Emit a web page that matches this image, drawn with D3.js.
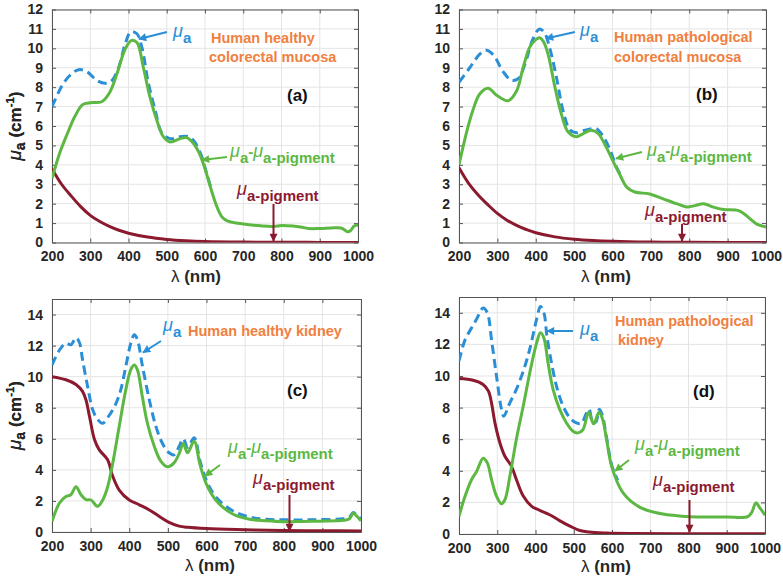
<!DOCTYPE html>
<html><head><meta charset="utf-8">
<script src="https://cdn.jsdelivr.net/npm/d3@7"></script>
<style>
body{margin:0;background:#fff}
svg{display:block}
text{font-family:"Liberation Sans",Arial,sans-serif}
</style>
</head><body>
<svg id="chart" width="783" height="578"></svg>
<script>
// ---------- tick labels ----------
const xTicks = [200,300,400,500,600,700,800,900,1000];
const yTicksColon = [0,1,2,3,4,5,6,7,8,9,10,11,12];
const yTicksKidney = [0,2,4,6,8,10,12,14];

// ---------- (a) healthy colorectal mucosa ----------
const aMuA = [[200,7.0],[230,8.2],[252,8.7],[270,8.9],[291,8.8],[317,8.35],[339,8.2],[357,8.35],[374,9.0],[391,10.2],[406,10.85],[422,10.75],[435,10.05],[452,8.2],[470,6.8],[487,5.65],[509,5.35],[535,5.45],[557,5.45],[572,5.2],[590,4.5],[600,3.85],[615,2.85]];
const aDiff = [[200,3.3],[220,4.6],[240,5.6],[260,6.5],[280,7.1],[300,7.2],[330,7.25],[350,7.7],[370,8.7],[390,9.9],[407,10.4],[422,10.3],[439,9.0],[456,7.5],[474,6.3],[491,5.45],[509,5.18],[535,5.35],[552,5.4],[570,5.1],[585,4.6],[600,3.8],[615,2.8],[630,1.9],[645,1.3],[660,1.1],[700,0.95],[750,0.85],[780,0.83],[800,0.88],[830,0.85],[850,0.8],[870,0.72],[900,0.72],[930,0.75],[955,0.75],[965,0.65],[972,0.55],[980,0.6],[990,0.85],[1000,0.9]];
const aPig = [[200,3.8],[225,3.0],[250,2.4],[275,1.85],[300,1.4],[325,1.08],[350,0.83],[375,0.63],[400,0.48],[450,0.28],[500,0.16],[550,0.09],[600,0.05],[700,0.02],[800,0.01],[900,0.005],[1000,0]];

// ---------- (b) pathological colorectal mucosa ----------
const bMuA = [[200,8.25],[228,9.0],[254,9.7],[271,9.9],[290,9.65],[315,8.8],[337,8.35],[355,8.45],[372,9.2],[393,10.5],[410,11.0],[423,10.8],[436,10.05],[454,8.5],[471,6.8],[489,5.8],[506,5.65],[528,5.78],[545,5.86],[558,5.86],[576,5.45],[593,4.8],[610,3.9],[625,3.33]];
const bDiff = [[200,4.0],[220,5.7],[236,6.8],[254,7.65],[276,7.95],[297,7.6],[328,7.3],[350,7.8],[367,9.0],[384,10.05],[400,10.45],[410,10.55],[420,10.35],[432,9.7],[450,8.0],[467,6.6],[484,5.7],[506,5.45],[523,5.6],[545,5.78],[563,5.6],[584,4.9],[601,4.2],[619,3.5],[637,2.85],[658,2.6],[697,2.5],[732,2.25],[767,2.0],[793,1.83],[815,1.9],[837,2.0],[863,1.82],[889,1.7],[930,1.63],[958,1.23],[976,0.95],[1000,0.8]];
const bPig = [[200,3.85],[225,3.05],[250,2.45],[275,1.95],[300,1.5],[325,1.15],[350,0.88],[375,0.67],[400,0.5],[450,0.29],[500,0.17],[550,0.1],[600,0.06],[700,0.02],[800,0.01],[1000,0]];

// ---------- (c) healthy kidney ----------
const cMuA = [[200,10.75],[219,11.7],[236,12.15],[249,12.05],[262,12.5],[271,12.2],[279,11.1],[292,9.4],[305,7.9],[318,7.25],[331,7.0],[348,7.5],[366,8.3],[378,9.15],[391,10.65],[404,12.15],[413,12.7],[421,12.4],[434,10.7],[452,8.5],[469,6.8],[486,5.7],[503,5.1],[516,4.97],[529,5.5],[540,6.0],[551,5.45],[568,6.07],[583,4.6],[600,3.3],[626,2.2],[669,1.35],[712,0.96],[755,0.82],[841,0.78],[893,0.8],[955,0.85],[970,0.95],[980,1.25],[990,1.05],[1000,0.82]];
const cDiff = [[200,0.67],[219,1.85],[236,2.28],[249,2.4],[262,2.92],[275,2.4],[288,2.08],[301,2.06],[318,1.65],[331,2.05],[344,2.9],[357,4.4],[374,6.8],[391,9.15],[404,10.45],[413,10.75],[421,10.45],[434,8.7],[447,7.0],[465,5.5],[482,4.55],[499,4.2],[516,4.45],[530,5.1],[540,5.7],[551,5.1],[568,5.85],[583,4.35],[600,3.07],[626,2.0],[669,1.14],[712,0.82],[755,0.72],[798,0.66],[850,0.68],[893,0.7],[955,0.75],[970,0.85],[980,1.2],[990,1.0],[1000,0.72]];
const cPig = [[200,10.0],[236,9.8],[262,9.5],[279,9.05],[288,8.5],[297,7.45],[310,5.95],[322,5.3],[344,4.65],[357,3.6],[374,2.7],[400,2.06],[426,1.75],[452,1.42],[478,1.0],[503,0.62],[529,0.38],[551,0.3],[600,0.22],[700,0.15],[800,0.1],[900,0.08],[1000,0.07]];

// ---------- (d) pathological kidney ----------
const dMuA = [[200,10.95],[216,12.3],[233,13.05],[246,13.6],[263,14.3],[274,14.0],[285,12.3],[298,10.0],[311,7.9],[317,7.45],[333,8.3],[350,9.15],[368,10.3],[385,11.7],[403,13.6],[413,14.4],[422,14.0],[430,12.5],[442,10.8],[455,9.35],[472,8.1],[490,7.35],[507,7.03],[520,7.0],[533,7.65],[540,7.9],[550,7.05],[558,7.1],[567,7.9],[575,7.5],[585,6.2],[600,4.3],[615,3.4]];
const dDiff = [[200,1.12],[216,2.4],[233,3.45],[246,3.95],[263,4.8],[274,4.5],[285,3.45],[298,2.4],[311,1.92],[320,2.17],[333,3.65],[350,6.0],[368,8.1],[385,10.2],[403,12.1],[413,12.73],[422,12.4],[433,10.8],[446,9.15],[463,7.9],[481,7.03],[498,6.5],[511,6.4],[524,6.6],[539,7.7],[552,6.97],[566,7.7],[575,7.3],[585,6.1],[600,4.2],[629,2.6],[672,1.7],[716,1.35],[760,1.18],[803,1.09],[900,1.08],[955,1.1],[966,1.4],[976,1.97],[988,1.6],[1000,1.2]];
const dPig = [[200,9.84],[237,9.73],[263,9.46],[277,9.04],[285,8.3],[294,7.03],[307,5.76],[320,4.92],[337,4.3],[350,3.45],[368,2.4],[390,1.75],[411,1.5],[437,1.22],[463,0.85],[490,0.5],[516,0.22],[540,0.12],[585,0.06],[650,0.03],[800,0.02],[1000,0.02]];

// ---------- styling ----------
const COL = {blue:"#2a8fd6", green:"#5cb842", red:"#8c1a2f", orange:"#f08040", text:"#262626", axis:"#555", grid:"#e4e4e4"};

const panels = [
  {key:"a", box:[52,9.5,358,242.5], yMax:12, yTicks:yTicksColon, muA:aMuA, diff:aDiff, pig:aPig,
   title:[["Human healthy",211,43],["colorectal mucosa",209,62]], tag:["(a)",287,101],
   muLab:[173,43], muArrow:[[167,32],[139,39]],
   diffLab:[230,163], diffArrow:[[227,157],[202,160]],
   pigLab:[237,201], pigArrow:[[273.5,204],[273.5,241]], xlab:[196,282]},
  {key:"b", box:[459,9.5,766,242.5], yMax:12, yTicks:yTicksColon, muA:bMuA, diff:bDiff, pig:bPig,
   title:[["Human pathological",614,42],["colorectal mucosa",614,62]], tag:["(b)",696,100],
   muLab:[580,42], muArrow:[[575,32],[546,38.5]],
   diffLab:[647,162], diffArrow:[[642,152],[616,158.5]],
   pigLab:[645,222], pigArrow:[[682,224],[682,241]], xlab:[606,282]},
  {key:"c", box:[52,299,361,532], yMax:15, yTicks:yTicksKidney, muA:cMuA, diff:cDiff, pig:cPig,
   title:[["Human healthy kidney",188,336]], tag:["(c)",287,396],
   muLab:[163,337], muArrow:[[161,341],[143,352.5]],
   diffLab:[228,459], diffArrow:[[220,465],[205,476]],
   pigLab:[253,490], pigArrow:[[289.5,495],[289.5,531]], xlab:[210,571]},
  {key:"d", box:[459,297,765,534], yMax:15, yTicks:yTicksKidney, muA:dMuA, diff:dDiff, pig:dPig,
   title:[["Human pathological",615,326],["kidney",618,345]], tag:["(d)",693,397],
   muLab:[580,341], muArrow:[[573,331],[547,331]],
   diffLab:[635,456], diffArrow:[[629,460],[615,471]],
   pigLab:[653,492], pigArrow:[[689.5,500],[689.5,532]], xlab:[606,572]}
];

const svg = d3.select("#chart");
const defs = svg.append("defs");
function marker(id, color){
  defs.append("marker").attr("id",id).attr("viewBox","0 0 10 10")
    .attr("refX",9).attr("refY",5).attr("markerWidth",9).attr("markerHeight",8)
    .attr("markerUnits","userSpaceOnUse").attr("orient","auto")
    .append("path").attr("d","M0,0 L10,5 L0,10 z").attr("fill",color);
}
marker("arBlue",COL.blue); marker("arGreen",COL.green); marker("arRed",COL.red);

// rich text: parts = [[string, kind]], kind: mu | sub | mid
function rich(g, x, y, parts, color, size){
  const s = size || 15;
  const t = g.append("text").attr("x",x).attr("y",y).attr("fill",color);
  parts.forEach(([str,kind])=>{
    const ts = t.append("tspan").text(str);
    if(kind==="mu"){ ts.attr("y",y-6).attr("font-style","italic").attr("font-weight","normal").attr("font-size",s+3); }
    else if(kind==="mid"){ ts.attr("y",y-6).attr("font-weight","bold").attr("font-size",s); }
    else { ts.attr("y",y).attr("font-weight","bold").attr("font-size",s); }
  });
  return t;
}
function arrow(g, pts, color, id){
  g.append("line").attr("x1",pts[0][0]).attr("y1",pts[0][1]).attr("x2",pts[1][0]).attr("y2",pts[1][1])
    .attr("stroke",color).attr("stroke-width",2).attr("marker-end",`url(#${id})`);
}

panels.forEach(p=>{
  const [x0,y0,x1,y1] = p.box;
  const x = d3.scaleLinear().domain([200,1000]).range([x0,x1]);
  const y = d3.scaleLinear().domain([0,p.yMax]).range([y1,y0]);
  const g = svg.append("g");

  // grid
  g.append("g").selectAll("line").data(xTicks).join("line")
    .attr("x1",d=>x(d)).attr("x2",d=>x(d)).attr("y1",y0).attr("y2",y1)
    .attr("stroke",COL.grid).attr("stroke-width",1);
  g.append("g").selectAll("line").data(p.yTicks).join("line")
    .attr("x1",x0).attr("x2",x1).attr("y1",d=>y(d)).attr("y2",d=>y(d))
    .attr("stroke",COL.grid).attr("stroke-width",1);

  // axes with inward ticks
  const fmt = d=>String(d);
  const ax = g.append("g").attr("transform",`translate(0,${y1})`)
    .call(d3.axisBottom(x).tickValues(xTicks).tickFormat(fmt).tickSizeInner(-4).tickSizeOuter(0).tickPadding(9));
  const ay = g.append("g").attr("transform",`translate(${x0},0)`)
    .call(d3.axisLeft(y).tickValues(p.yTicks).tickFormat(fmt).tickSizeInner(-4).tickSizeOuter(0).tickPadding(9));
  const axT = g.append("g").attr("transform",`translate(0,${y0})`)
    .call(d3.axisTop(x).tickValues(xTicks).tickSizeInner(-4).tickSizeOuter(0).tickFormat(""));
  const ayR = g.append("g").attr("transform",`translate(${x1},0)`)
    .call(d3.axisRight(y).tickValues(p.yTicks).tickSizeInner(-4).tickSizeOuter(0).tickFormat(""));
  [ax,ay,axT,ayR].forEach(a=>{
    a.select(".domain").attr("stroke",COL.axis).attr("stroke-width",1);
    a.selectAll(".tick line").attr("stroke",COL.axis);
    a.selectAll("text").attr("font-size",14).attr("font-weight","bold").attr("fill",COL.text)
      .attr("font-family",'"Liberation Sans",Arial,sans-serif');
  });

  // curves
  const clipId = "clip"+p.key;
  defs.append("clipPath").attr("id",clipId).append("rect")
    .attr("x",x0).attr("y",y0-2).attr("width",x1-x0).attr("height",y1-y0+2);
  const line = d3.line().x(d=>x(d[0])).y(d=>y(d[1])).curve(d3.curveCatmullRom.alpha(0.5));
  const lg = g.append("g").attr("clip-path",`url(#${clipId})`);
  lg.append("path").datum(p.muA).attr("d",line).attr("fill","none")
    .attr("stroke",COL.blue).attr("stroke-width",3).attr("stroke-dasharray","9,5");
  lg.append("path").datum(p.pig).attr("d",line).attr("fill","none")
    .attr("stroke",COL.red).attr("stroke-width",3);
  lg.append("path").datum(p.diff).attr("d",line).attr("fill","none")
    .attr("stroke",COL.green).attr("stroke-width",3);

  // axis titles
  const xl = g.append("text").attr("x",p.xlab[0]).attr("y",p.xlab[1]).attr("text-anchor","middle").attr("fill",COL.text);
  xl.append("tspan").text("λ").attr("font-size",17);
  xl.append("tspan").text(" (nm)").attr("font-size",17).attr("font-weight","bold");

  const yc = (y0+y1)/2;
  const yl = g.append("text").attr("transform",`translate(21,${yc}) rotate(-90)`).attr("text-anchor","middle").attr("fill",COL.text);
  yl.append("tspan").text("μ").attr("font-style","italic").attr("font-size",19);
  yl.append("tspan").text("a").attr("font-size",14).attr("font-weight","bold").attr("dy",4);
  yl.append("tspan").text(" (cm").attr("font-size",17).attr("font-weight","bold").attr("dy",-4);
  yl.append("tspan").text("-1").attr("font-size",11.5).attr("font-weight","bold").attr("dy",-7);
  yl.append("tspan").text(")").attr("font-size",17).attr("font-weight","bold").attr("dy",7);

  // annotations
  p.title.forEach(([str,tx,ty])=>{
    g.append("text").attr("x",tx).attr("y",ty).text(str).attr("fill",COL.orange)
      .attr("font-size",14.5).attr("font-weight","bold");
  });
  g.append("text").attr("x",p.tag[1]).attr("y",p.tag[2]).text(p.tag[0]).attr("fill","#111")
    .attr("font-size",17).attr("font-weight","bold");

  rich(g, p.muLab[0], p.muLab[1], [["μ","mu"],["a","sub"]], COL.blue, 15);
  arrow(g, p.muArrow, COL.blue, "arBlue");
  rich(g, p.diffLab[0], p.diffLab[1], [["μ","mu"],["a","sub"],["-","mid"],["μ","mu"],["a-pigment","sub"]], COL.green, 15);
  arrow(g, p.diffArrow, COL.green, "arGreen");
  rich(g, p.pigLab[0], p.pigLab[1], [["μ","mu"],["a-pigment","sub"]], COL.red, 15);
  arrow(g, p.pigArrow, COL.red, "arRed");
});
</script>
</body></html>
